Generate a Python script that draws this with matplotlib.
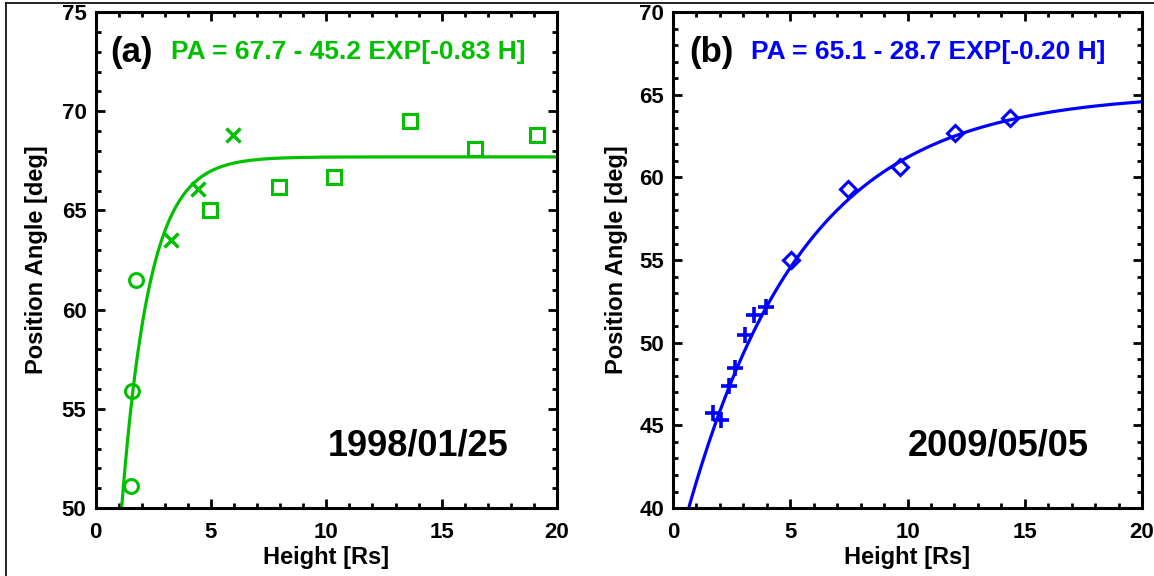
import numpy as np
import matplotlib
matplotlib.use("Agg")
import matplotlib.pyplot as plt
from matplotlib.lines import Line2D
from matplotlib.ticker import MultipleLocator

plt.rcParams['font.family'] = ['Liberation Sans', 'DejaVu Sans']
plt.rcParams['font.weight'] = 'bold'

# panel (a) 1998/01/25
a_circ_h = [1.52, 1.57, 1.75]
a_circ_pa = [51.1, 55.9, 61.5]
a_cross_h = [3.27, 4.44, 5.94]
a_cross_pa = [63.5, 66.1, 68.8]
a_sq_h = [4.94, 7.93, 10.35, 13.64, 16.45, 19.15]
a_sq_pa = [65.0, 66.2, 66.7, 69.5, 68.1, 68.8]
a_fit = (67.7, 45.2, 0.83)

# panel (b) 2009/05/05
b_plus_h = [1.70, 2.05, 2.37, 2.66, 3.06, 3.47, 3.97]
b_plus_pa = [45.75, 45.35, 47.4, 48.5, 50.45, 51.7, 52.15]
b_dia_h = [5.03, 7.48, 9.70, 12.02, 14.35]
b_dia_pa = [55.0, 59.3, 60.6, 62.67, 63.57]
b_fit = (65.1, 28.7, 0.20)

green = '#00c000'
blue = '#0000ff'

fig = plt.figure(figsize=(11.54, 5.76), dpi=100)
ax1 = fig.add_axes([0.0828, 0.118, 0.3999, 0.861])
ax2 = fig.add_axes([0.5832, 0.118, 0.4064, 0.861])

# thin frame on top and left edge
fig.add_artist(Line2D([0.005, 1.0], [0.9948, 0.9948], color='black', lw=1.2, transform=fig.transFigure))
fig.add_artist(Line2D([0.0052, 0.0052], [0.0, 0.9948], color='black', lw=1.2, transform=fig.transFigure))

def fit_curve(p, h):
    return p[0] - p[1] * np.exp(-p[2] * h)

def style(ax, ylo, yhi, ylab_x):
    ax.set_xlim(0, 20)
    ax.set_ylim(ylo, yhi)
    ax.xaxis.set_major_locator(MultipleLocator(5))
    ax.xaxis.set_minor_locator(MultipleLocator(1))
    ax.yaxis.set_major_locator(MultipleLocator(5))
    ax.yaxis.set_minor_locator(MultipleLocator(1))
    ax.tick_params(which='both', direction='in', top=True, right=True, width=2)
    ax.tick_params(which='major', length=6.5, labelsize=16)
    ax.tick_params(which='minor', length=3.6)
    ax.tick_params(axis='x', pad=10)
    ax.tick_params(axis='y', pad=6.5)
    for s in ax.spines.values():
        s.set_linewidth(2.2)
    ax.set_xlabel('Height [Rs]', fontsize=17, fontweight='bold')
    ax.set_ylabel('Position Angle [deg]', fontsize=17, fontweight='bold')
    ax.xaxis.set_label_coords(0.5, -0.077)
    ax.yaxis.set_label_coords(ylab_x, 0.5)

hh = np.linspace(0, 20, 400)

ax1.plot(hh, fit_curve(a_fit, hh), color=green, lw=2.3)
ax1.plot(a_circ_h, a_circ_pa, 'o', mfc='none', mec=green, ms=10, mew=2.2)
ax1.plot(a_cross_h, a_cross_pa, 'x', color=green, ms=10, mew=2.5)
ax1.plot(a_sq_h, a_sq_pa, 's', mfc='none', mec=green, ms=10, mew=2.2)
style(ax1, 50, 75, -0.103)
ax1.text(0.031, 0.919, '(a)', transform=ax1.transAxes, fontsize=25, fontweight='bold', va='center')
ax1.text(0.164, 0.919, 'PA = %.1f - %.1f EXP[-%.2f H]' % a_fit, transform=ax1.transAxes,
         fontsize=19, fontweight='bold', color=green, va='center')
ax1.text(0.503, 0.126, '1998/01/25', transform=ax1.transAxes, fontsize=26, fontweight='bold', va='center')

ax2.plot(hh, fit_curve(b_fit, hh), color=blue, lw=2.3)
ax2.plot(b_plus_h, b_plus_pa, '+', color=blue, ms=11, mew=2.6)
ax2.plot(b_dia_h, b_dia_pa, 'D', mfc='none', mec=blue, ms=8, mew=2.2)
style(ax2, 40, 70, -0.096)
ax2.text(0.034, 0.919, '(b)', transform=ax2.transAxes, fontsize=25, fontweight='bold', va='center')
ax2.text(0.166, 0.919, 'PA = %.1f - %.1f EXP[-%.2f H]' % b_fit, transform=ax2.transAxes,
         fontsize=19, fontweight='bold', color=blue, va='center')
ax2.text(0.50, 0.126, '2009/05/05', transform=ax2.transAxes, fontsize=26, fontweight='bold', va='center')

fig.savefig('out.png', dpi=100)
